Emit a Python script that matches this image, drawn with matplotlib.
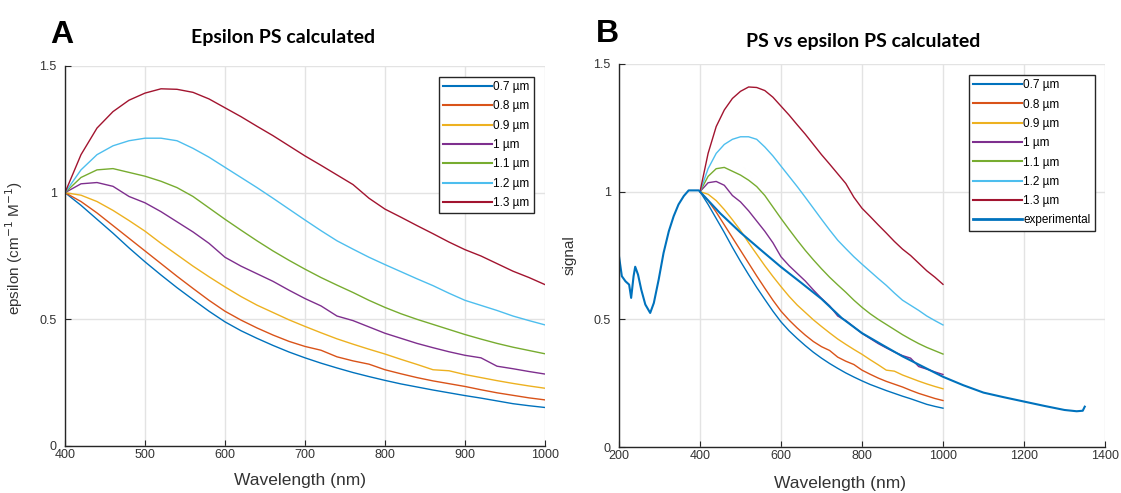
import matplotlib
matplotlib.use("Agg")
import matplotlib.pyplot as plt

# Wavelength grid (nm) for the calculated extinction curves
wavelength_calc = [400, 420, 440, 460, 480, 500, 520, 540, 560, 580, 600,
                   620, 640, 660, 680, 700, 720, 740, 760, 780, 800,
                   820, 840, 860, 880, 900, 920, 940, 960, 980, 1000]

# Calculated epsilon for each particle size (normalised at 400 nm)
eps_07 = [1.000, 0.950, 0.895, 0.840, 0.782, 0.727, 0.675, 0.625, 0.578, 0.532, 0.490,
          0.455, 0.425, 0.397, 0.371, 0.348, 0.327, 0.308, 0.290, 0.274, 0.259,
          0.245, 0.233, 0.221, 0.210, 0.199, 0.189, 0.178, 0.167, 0.159, 0.152]
eps_08 = [1.000, 0.965, 0.920, 0.870, 0.820, 0.770, 0.720, 0.670, 0.622, 0.575, 0.532,
          0.497, 0.466, 0.438, 0.413, 0.393, 0.378, 0.352, 0.336, 0.323, 0.301,
          0.285, 0.270, 0.257, 0.246, 0.235, 0.222, 0.210, 0.200, 0.190, 0.182]
eps_09 = [1.000, 0.990, 0.965, 0.930, 0.890, 0.848, 0.800, 0.755, 0.710, 0.668, 0.628,
          0.590, 0.556, 0.527, 0.498, 0.472, 0.447, 0.423, 0.402, 0.382, 0.363,
          0.342, 0.322, 0.301, 0.297, 0.282, 0.270, 0.258, 0.247, 0.237, 0.228]
eps_10 = [1.000, 1.035, 1.040, 1.025, 0.985, 0.960, 0.925, 0.885, 0.845, 0.800, 0.745,
          0.710, 0.680, 0.650, 0.615, 0.582, 0.553, 0.513, 0.495, 0.470, 0.445,
          0.425, 0.405, 0.388, 0.372, 0.358, 0.348, 0.315, 0.305, 0.294, 0.284]
eps_11 = [1.000, 1.060, 1.090, 1.095, 1.080, 1.065, 1.045, 1.020, 0.985, 0.940, 0.895,
          0.852, 0.810, 0.770, 0.733, 0.698, 0.665, 0.635, 0.606, 0.575, 0.547,
          0.522, 0.500, 0.480, 0.460, 0.440, 0.422, 0.405, 0.390, 0.377, 0.364]
eps_12 = [1.000, 1.090, 1.150, 1.185, 1.205, 1.215, 1.215, 1.205, 1.175, 1.140, 1.100,
          1.060, 1.020, 0.978, 0.935, 0.892, 0.850, 0.810, 0.777, 0.745, 0.716,
          0.688, 0.660, 0.633, 0.603, 0.575, 0.555, 0.535, 0.513, 0.495, 0.478]
eps_13 = [1.000, 1.150, 1.255, 1.320, 1.365, 1.393, 1.410, 1.408, 1.396, 1.370, 1.335,
          1.300, 1.262, 1.225, 1.185, 1.145, 1.108, 1.070, 1.032, 0.978, 0.935,
          0.903, 0.870, 0.838, 0.805, 0.775, 0.750, 0.720, 0.690, 0.665, 0.637]

size_labels = ["0.7 µm", "0.8 µm", "0.9 µm", "1 µm", "1.1 µm", "1.2 µm", "1.3 µm"]

# Measured PS signal (normalised)
wavelength_exp = [200, 207, 216, 225, 230, 236, 240, 247, 255, 265, 277, 286,
                  298, 310, 323, 335, 347, 360, 372, 385, 397, 400,
                  450, 500, 550, 600, 650, 700, 750, 800, 850, 900, 950,
                  1000, 1050, 1100, 1150, 1200, 1250, 1300, 1330, 1345, 1350]
signal_exp = [0.747, 0.669, 0.649, 0.636, 0.584, 0.669, 0.706, 0.675, 0.616, 0.558, 0.525, 0.564,
              0.656, 0.760, 0.845, 0.904, 0.950, 0.983, 1.005, 1.005, 1.005, 1.000,
              0.915, 0.840, 0.772, 0.705, 0.643, 0.580, 0.505, 0.446, 0.400, 0.355, 0.315,
              0.275, 0.242, 0.213, 0.195, 0.178, 0.161, 0.145, 0.140, 0.142, 0.158]

colors = ["#0072BD", "#D95319", "#EDB120", "#7E2F8E", "#77AC30", "#4DBEEE", "#A2142F"]
series = [eps_07, eps_08, eps_09, eps_10, eps_11, eps_12, eps_13]

plt.rcParams["font.family"] = ["Liberation Sans", "DejaVu Sans"]

W, H = 1121, 493
fig = plt.figure(figsize=(W / 100, H / 100), dpi=100)


def px_axes(x0, x1, y0, y1):
    return fig.add_axes([x0 / W, 1 - y1 / H, (x1 - x0) / W, (y1 - y0) / H])


def style(ax):
    for s in ("top", "right"):
        ax.spines[s].set_visible(False)
    for s in ("left", "bottom"):
        ax.spines[s].set_color("#262626")
        ax.spines[s].set_linewidth(1.0)
    ax.grid(True, color="#e3e3e3", linewidth=1.0)
    ax.set_axisbelow(True)
    ax.tick_params(direction="in", length=4, width=0.8, color="#262626",
                   labelsize=9, labelcolor="#333333")
    ax.tick_params(axis="y", pad=6)
    ax.tick_params(axis="x", pad=2)


axA = px_axes(65, 545, 66, 446)
axB = px_axes(619, 1105, 64, 447)

for vals, c, lab in zip(series, colors, size_labels):
    axA.plot(wavelength_calc, vals, color=c, lw=1.0, label=lab)
    axB.plot(wavelength_calc, vals, color=c, lw=1.0, label=lab)
axB.plot(wavelength_exp, signal_exp, color="#0072BD", lw=1.5, label="experimental")

for ax in (axA, axB):
    style(ax)
    ax.set_ylim(0, 1.5)
    ax.set_yticks([0, 0.5, 1, 1.5])
    ax.set_yticklabels(["0", "0.5", "1", "1.5"])

axA.set_xlim(400, 1000)
axA.set_xticks(range(400, 1001, 100))
axB.set_xlim(200, 1400)
axB.set_xticks(range(200, 1401, 200))

axA.set_xlabel("Wavelength (nm)", fontsize=12.5, color="#333333")
axA.xaxis.set_label_coords(0.49, -0.072)
axA.set_ylabel("epsilon (cm$^{-1}$ M$^{-1}$)", fontsize=11, color="#333333")
axA.yaxis.set_label_coords(-0.084, 0.52)

axB.set_xlabel("Wavelength (nm)", fontsize=12.5, color="#333333")
axB.xaxis.set_label_coords(0.455, -0.075)
axB.set_ylabel("signal", fontsize=11, color="#333333")
axB.yaxis.set_label_coords(-0.088, 0.5)

leg_kw = dict(loc="upper right", fontsize=8.5, frameon=True, fancybox=False,
              framealpha=1, edgecolor="#262626", borderaxespad=0,
              handlelength=4.2, handletextpad=0.1, labelspacing=0.62,
              borderpad=0.35)
legA = axA.legend(bbox_to_anchor=(0.977, 0.971), **leg_kw)
legB = axB.legend(bbox_to_anchor=(0.979, 0.971), **leg_kw)
for leg in (legA, legB):
    leg.get_frame().set_linewidth(1.0)
    for ln in leg.get_lines():
        ln.set_linewidth(1.5)
legB.get_lines()[-1].set_linewidth(2.0)

# Panel titles and letters
fig.text(283 / W, 1 - 43 / H, "Epsilon PS calculated", fontsize=14,
         fontweight="bold", family="Lato", ha="center", va="baseline")
fig.text(863 / W, 1 - 47 / H, "PS vs epsilon PS calculated", fontsize=14,
         fontweight="bold", family="Lato", ha="center", va="baseline")
fig.text(62 / W, 1 - 43 / H, "A", fontsize=23, fontweight="bold",
         ha="center", va="baseline")
fig.text(607 / W, 1 - 42 / H, "B", fontsize=23, fontweight="bold",
         ha="center", va="baseline")

fig.savefig("out.png", dpi=100)
